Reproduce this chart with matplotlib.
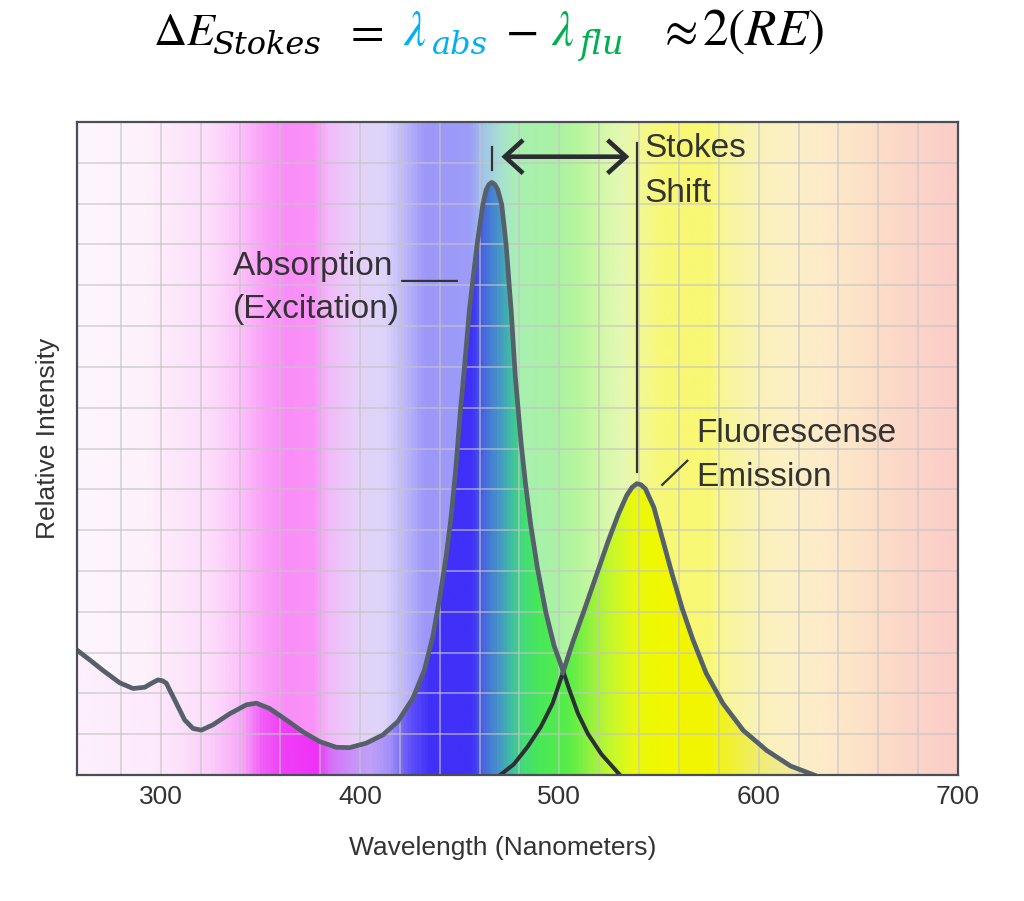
import numpy as np
import matplotlib
matplotlib.use('Agg')
import matplotlib.pyplot as plt
from matplotlib.colors import LinearSegmentedColormap
from matplotlib.patches import Polygon, FancyArrowPatch

# absorption (excitation) spectrum
abs_nm = [258.0, 264.4, 271.1, 279.4, 286.1, 292.0, 295.5, 298.6, 300.8, 302.8,
          307.0, 312.0, 316.2, 320.4, 326.2, 334.6, 343.0, 348.0, 354.6, 363.0,
          371.3, 379.7, 388.0, 394.7, 403.1, 411.4, 419.0, 426.5, 432.3, 436.5,
          439.8, 443.2, 445.7, 448.0, 450.4, 452.4, 454.9, 456.2, 458.7, 461.6,
          463.3, 464.7, 466.1, 467.6, 469.1, 471.1, 473.3, 474.9, 475.8, 477.9,
          480.8, 483.0, 485.6, 489.0, 493.2, 497.4, 501.7, 505.0, 509.3, 514.3,
          521.1, 530.4]
abs_int = [3.06, 2.82, 2.56, 2.26, 2.12, 2.15, 2.25, 2.33, 2.31, 2.25,
           1.84, 1.35, 1.14, 1.10, 1.23, 1.50, 1.72, 1.76, 1.63, 1.35,
           1.06, 0.82, 0.68, 0.67, 0.78, 0.98, 1.31, 1.88, 2.57, 3.39,
           4.29, 5.35, 6.33, 7.48, 8.95, 10.0, 11.4, 11.96, 12.99, 13.97,
           14.34, 14.47, 14.52, 14.47, 14.34, 13.97, 12.99, 11.96, 11.40, 9.76,
           8.13, 7.14, 6.14, 5.07, 3.99, 3.16, 2.58, 2.09, 1.51, 1.01,
           0.51, 0.0]

# fluorescence emission spectrum
emi_nm = [470.3, 477.1, 483.9, 490.7, 496.6, 501.7, 506.7, 512.7, 518.6, 524.5,
          529.6, 533.8, 536.5, 538.9, 541.0, 543.2, 547.4, 551.6, 556.7, 561.7,
          566.9, 573.6, 582.1, 592.3, 604.1, 616.0, 627.8]
emi_int = [0.0, 0.26, 0.68, 1.18, 1.75, 2.50, 3.25, 4.07, 4.90, 5.73,
           6.39, 6.85, 7.05, 7.14, 7.11, 7.01, 6.56, 5.81, 4.90, 4.07,
           3.33, 2.50, 1.75, 1.09, 0.60, 0.22, 0.0]

abs_peak = 466.1
emi_peak = 539.1
cross_nm = 501.7
tick_nm = [300, 400, 500, 600, 700]

# spectrum colours: saturated (under the curves) and pale (background)
sat_stops = [(258, '#fdf0fd'), (295, '#fdeafc'), (310, '#fde0fb'), (325, '#fbccfa'),
             (340, '#f8a8f8'), (350, '#f060f6'), (360, '#f040f8'), (378, '#f030f8'),
             (385, '#d870f8'), (395, '#c890f8'), (405, '#c0a0f8'), (415, '#a090f8'),
             (425, '#6050f8'), (435, '#4030f8'), (456, '#4030f8'), (462, '#4868e0'),
             (470, '#4498c4'), (476, '#40c0a0'), (482, '#44dc78'), (490, '#48e858'),
             (505, '#58ee48'), (515, '#90f040'), (525, '#c0f830'), (537, '#e8f810'),
             (550, '#f0f800'), (575, '#f2f600'), (590, '#f0f040'), (605, '#f0ec80'),
             (620, '#f4e8a0'), (640, '#f8dca0'), (700, '#f8b0a0')]
pale_stops = [(258, '#fef6fe'), (290, '#fdf2fc'), (305, '#fde8fb'), (325, '#fcdcfa'),
              (340, '#fcc0fa'), (352, '#fb9ef9'), (362, '#fa8ef8'), (376, '#fb92f8'),
              (384, '#f2baf8'), (398, '#e6d2f8'), (412, '#dcd4fa'), (422, '#c0b8fa'),
              (432, '#9e98f8'), (455, '#9c9cf8'), (462, '#a2c6e6'), (472, '#a8e4cc'),
              (480, '#a8f0b0'), (498, '#a8f2a4'), (510, '#b8f69c'), (522, '#d4f8a8'),
              (532, '#e6f8b4'), (542, '#f2f890'), (552, '#f8f878'), (575, '#f8f874'),
              (585, '#f8f69c'), (600, '#faf2b8'), (615, '#fcf0c4'), (630, '#fdecca'),
              (650, '#fde4c8'), (670, '#fcd8c8'), (700, '#fbcdc8')]

x0, x1 = 258, 700
y0, y1 = 0, 16

plt.rcParams['font.family'] = ['Liberation Sans', 'DejaVu Sans']
plt.rcParams['mathtext.fontset'] = 'stix'

def make_cmap(name, stops):
    return LinearSegmentedColormap.from_list(
        name, [((n - x0) / (x1 - x0), c) for n, c in stops])

fig = plt.figure(figsize=(10.24, 9.01), dpi=100)
ax = fig.add_axes([77/1024, 1 - 775/901, 881/1024, 653/901])

grad = np.linspace(0, 1, 1200)[None, :]
ax.imshow(grad, cmap=make_cmap('pale', pale_stops), extent=(x0, x1, y0, y1),
          aspect='auto', origin='lower', interpolation='bilinear', zorder=0)

for xs, ys in [(abs_nm, abs_int), (emi_nm, emi_int)]:
    verts = np.column_stack([np.r_[xs[0], xs, xs[-1]], np.r_[0, ys, 0]])
    poly = Polygon(verts, closed=True, transform=ax.transData, fc='none', ec='none')
    im = ax.imshow(grad, cmap=make_cmap('sat', sat_stops), extent=(x0, x1, y0, y1),
                   aspect='auto', origin='lower', interpolation='bilinear', zorder=0.5)
    im.set_clip_path(poly)

gray = '#56606a'
dark = '#2c3035'
an = np.array(abs_nm); ai = np.array(abs_int)
en = np.array(emi_nm); ei = np.array(emi_int)
ax.plot(an[an >= cross_nm], ai[an >= cross_nm], color=dark, lw=2.9,
        solid_joinstyle='round', zorder=3)
ax.plot(en[en <= cross_nm], ei[en <= cross_nm], color=dark, lw=2.9,
        solid_joinstyle='round', zorder=3)
ax.plot(an[an <= cross_nm], ai[an <= cross_nm], color=gray, lw=3.4,
        solid_joinstyle='round', zorder=4)
ax.plot(en[en >= cross_nm], ei[en >= cross_nm], color=gray, lw=3.4,
        solid_joinstyle='round', zorder=4)

# stokes shift markers
txt = '#333333'
ax.plot([abs_peak, abs_peak], [14.83, 15.39], color=txt, lw=1.6, zorder=5)
ax.plot([emi_peak, emi_peak], [7.43, 15.49], color=txt, lw=1.6, zorder=5)
arr = FancyArrowPatch((abs_peak + 4.8, 15.15), (emi_peak - 4.0, 15.15),
                      arrowstyle='<->,head_length=0.55,head_width=0.5',
                      mutation_scale=24, lw=3.3, color='#2a2d30', shrinkA=0, shrinkB=0,
                      joinstyle='miter', capstyle='butt', zorder=5)
ax.add_patch(arr)

fs = 24
ax.text(336.1, 12.25, 'Absorption ___', fontsize=fs, color=txt, va='baseline', zorder=6)
ax.text(336.1, 11.20, '(Excitation)', fontsize=fs, color=txt, va='baseline', zorder=6)
ax.text(542.6, 15.15, 'Stokes', fontsize=fs, color=txt, va='baseline', zorder=6)
ax.text(542.6, 14.05, 'Shift', fontsize=fs, color=txt, va='baseline', zorder=6)
ax.text(568.7, 8.17, 'Fluorescense', fontsize=fs, color=txt, va='baseline', zorder=6)
ax.text(568.7, 7.07, 'Emission', fontsize=fs, color=txt, va='baseline', zorder=6)
ax.plot([551.6, 564.2], [7.11, 7.70], color=txt, lw=1.6, zorder=6)

# axes, grid, labels
ax.set_xlim(x0, x1)
ax.set_ylim(y0, y1)
ax.set_xticks(tick_nm)
ax.set_xticks(np.arange(280, 700, 20), minor=True)
ax.set_yticks(np.arange(1, 16))
ax.set_yticklabels([])
ax.tick_params(which='both', length=0)
ax.tick_params(axis='x', labelsize=19, labelcolor=txt, pad=7)
ax.grid(True, which='both', color='#c4c4c4', lw=1.1, alpha=0.75)
for s in ax.spines.values():
    s.set_color('#4a4f55')
    s.set_linewidth(1.6)
    s.set_zorder(7)

ax.set_xlabel('Wavelength (Nanometers)', fontsize=19, color=txt, va='center')
ax.xaxis.set_label_coords(0.4835, -0.112)
ax.set_ylabel('Relative Intensity', fontsize=19, color=txt, va='center', ha='center')
ax.yaxis.set_label_coords(-0.033, 0.516)

# title formula: (text, left px, baseline px, size, colour, subscript?)
blue, green = '#00b0f0', '#00b050'
formula = [(r'$\Delta E$', 153, 45, 33, 'black', False),
           ('Stokes', 212, 54, 23, 'black', True),
           (r'$=$', 343, 45, 35, 'black', False),
           (r'$\lambda$', 403, 45, 35, blue, False),
           ('abs', 432, 54, 23, blue, True),
           (r'$-$', 505, 45, 35, 'black', False),
           (r'$\lambda$', 551, 45, 35, green, False),
           ('flu', 579, 54, 24, green, True),
           (r'$\approx$', 657, 45, 35, 'black', False),
           (r'$2(RE)$', 702, 45, 37, 'black', False)]
for s, xp, yb, size, c, sub in formula:
    kw = dict(family='DejaVu Serif', style='italic') if sub else {}
    fig.text(xp / 1024, 1 - yb / 901, s, fontsize=size, color=c,
             va='baseline', ha='left', **kw)

fig.savefig('out.png', dpi=100)
